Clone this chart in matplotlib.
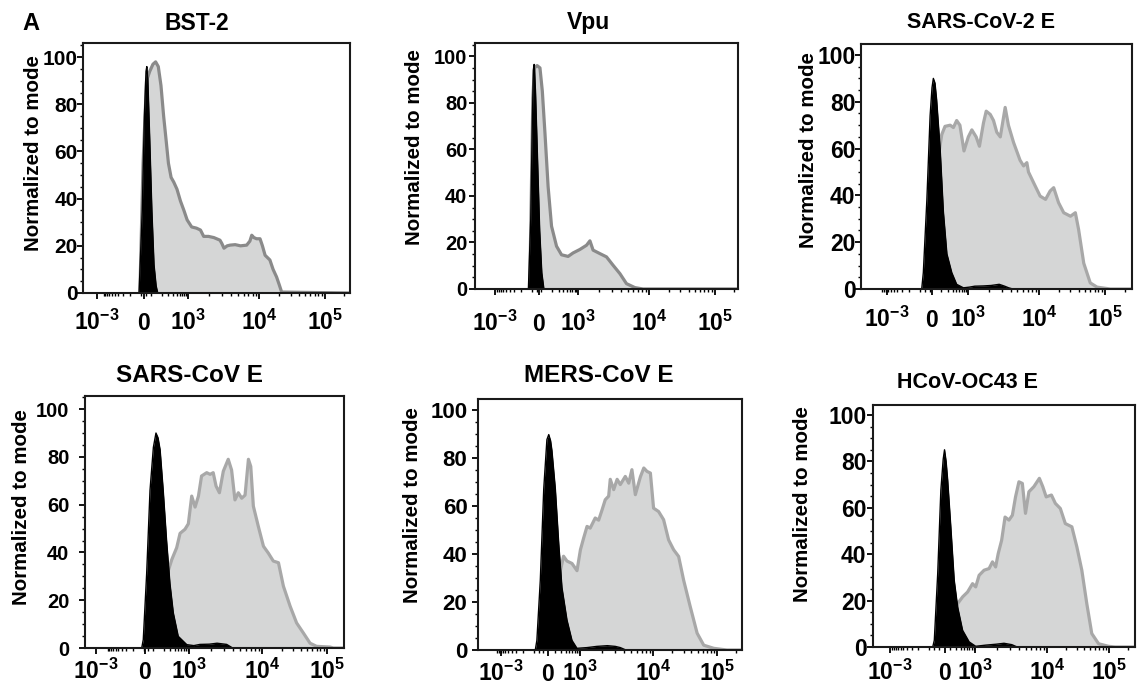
import numpy as np
import matplotlib
matplotlib.use("Agg")
import matplotlib.pyplot as plt
from matplotlib.ticker import FixedLocator, MultipleLocator

plt.rcParams['font.family'] = ['Liberation Sans', 'DejaVu Sans']
plt.rcParams['font.weight'] = 'bold'
plt.rcParams['mathtext.fontset'] = 'custom'
plt.rcParams['mathtext.rm'] = 'Liberation Sans:bold'
plt.rcParams['mathtext.bf'] = 'Liberation Sans:bold'
plt.rcParams['mathtext.it'] = 'Liberation Sans:bold'
plt.rcParams['mathtext.default'] = 'rm'

# ---------------- data (x in display channel units 0-1000 across each plot, y = % of mode)
titles = ["BST-2", "Vpu", "SARS-CoV-2 E", "SARS-CoV E", "MERS-CoV E", "HCoV-OC43 E"]
x_tick_labels = [r'$10^{-3}$', r'$0$', r'$10^{3}$', r'$10^{4}$', r'$10^{5}$']
y_ticks = [0, 20, 40, 60, 80, 100]

bst2_gray_x = [213, 225, 238, 250, 262, 272, 282, 292, 302, 312, 320, 330, 340, 352, 365, 378, 390, 407,
               425, 440, 452, 470, 490, 513, 520, 528, 540, 551, 570, 590, 613, 625, 632, 640, 650, 663,
               672, 682, 700, 712, 725, 735, 744, 1000]
bst2_gray_y = [0, 55, 90, 94, 97, 98, 96, 88, 75, 64, 55, 49, 47, 44, 39, 35, 31, 28,
               27.5, 26.7, 24, 24, 23.5, 22.4, 21, 19, 20, 20.3, 20.5, 20, 20.3, 22, 24.5, 23.5, 23, 23,
               20, 16, 14, 10, 6.8, 3.5, 0.4, 0]
bst2_black_x = [210, 222, 230, 236, 239, 243, 250, 258, 266, 274, 280]
bst2_black_y = [0, 35, 75, 94, 96, 90, 65, 35, 12, 3, 0]

vpu_gray_x = [208, 214, 220, 226, 236, 247, 256, 266, 278, 291, 310, 329, 354, 373, 399, 424, 437, 449,
              475, 500, 525, 551, 576, 608, 639, 1000]
vpu_gray_y = [0, 40, 82, 95, 96, 95, 85, 67, 44, 27, 18.4, 14.7, 14, 15.5, 17, 18.8, 20.7, 16.7,
              15.2, 13.8, 10.2, 6.6, 2.3, 0.6, 0, 0]
vpu_black_x = [203, 212, 218, 222, 225, 230, 238, 246, 254, 262]
vpu_black_y = [0, 30, 72, 94, 96.5, 85, 55, 25, 7, 0]

sars2_gray_x = [250, 270, 286, 298, 310, 329, 341, 353, 365, 380, 396, 409, 425, 437, 452, 462, 477, 489,
                501, 514, 532, 544, 563, 587, 600, 612, 618, 637, 661, 681, 698, 711, 729, 748, 773, 791,
                803, 822, 846, 871, 920, 1000]
sars2_gray_y = [0, 30, 57, 66, 69.5, 70, 69, 72, 70, 59, 65, 68, 65, 61, 71, 76, 74.6, 72,
                67, 65, 77.6, 70, 62.6, 55, 52.6, 54, 50, 45.4, 39.7, 38.3, 41.9, 43.3, 36.9, 32.6, 31.1, 32.6,
                25.4, 11, 2.6, 0.8, 0, 0]
sars2_black_x = [224, 230, 243, 255, 262, 267, 273, 279, 292, 304, 317, 335, 353, 378, 400, 420, 450, 480,
                 510, 530, 545, 560]
sars2_black_y = [0, 7, 38, 74, 86, 90, 88, 81, 60, 33, 15, 7, 2, 0.5, 0.8, 1.2, 1.3, 1.5,
                 2, 1.2, 0.5, 0]

sars_gray_x = [280, 300, 322, 335, 354, 367, 386, 399, 412, 425, 438, 450, 470, 483, 495, 506, 519, 534,
               553, 566, 579, 592, 605, 618, 631, 640, 650, 669, 689, 708, 727, 747, 766, 792, 817, 843,
               869, 894, 946, 959, 1000]
sars_gray_y = [0, 15, 32.5, 37, 42, 48, 49.7, 52, 63.6, 59, 63.6, 72, 73.4, 72.7, 73.4, 67.8, 65, 74,
               79, 74.5, 62, 65, 62.7, 64, 79, 76, 59.4, 51, 42.6, 39.7, 36.4, 35.7, 25.9, 17.5, 10.5, 6.3,
               2, 0.7, 0.4, 0, 0]
sars_black_x = [219, 225, 238, 251, 264, 274, 282, 290, 302, 315, 328, 341, 360, 393, 420, 444, 480, 510,
                547, 570]
sars_black_y = [0, 3.5, 31, 66, 84, 90, 88, 83, 66, 45, 27, 14.7, 4.9, 1.4, 1, 1.5, 1.6, 2,
                1.5, 0]

mers_gray_x = [280, 300, 312, 324, 337, 356, 375, 388, 400, 413, 425, 444, 457, 470, 482, 495, 501, 514,
               527, 539, 558, 571, 583, 596, 615, 628, 640, 653, 665, 684, 703, 722, 741, 760, 779, 804,
               830, 855, 893, 943, 1000]
mers_gray_y = [0, 20, 33, 39, 37, 36, 33, 41.7, 46.5, 51.4, 50.7, 54.9, 54, 58.3, 62.5, 64, 71, 66.7,
               71, 68.8, 72.2, 69.4, 75, 64.6, 72, 75.7, 74.3, 73.6, 59, 57.6, 54.2, 45.8, 41.7, 38.9, 29, 18,
               7, 2, 0.7, 0, 0]
mers_black_x = [217, 223, 236, 249, 261, 268, 275, 280, 293, 306, 318, 337, 356, 375, 413, 450, 490, 520,
                539, 560]
mers_black_y = [0, 4, 29, 67, 87.5, 89.6, 87, 83, 67, 44, 26, 12.5, 4, 0.7, 1, 1.5, 1.8, 1.5,
                1, 0]

oc43_gray_x = [290, 310, 323, 342, 361, 380, 392, 405, 424, 443, 456, 468, 478, 491, 504, 519, 532, 544,
               557, 570, 582, 595, 614, 635, 648, 661, 681, 696, 715, 734, 759, 778, 797, 816, 835, 861,
               899, 924, 1000]
oc43_gray_y = [0, 12, 18.7, 21.6, 23.7, 27.3, 25.9, 30.9, 33.1, 33.8, 36.7, 34.5, 40.3, 46, 56, 54.7, 56.8, 64.7,
               71.2, 70.5, 57.6, 66.9, 69.1, 72.7, 69.1, 64.7, 65.5, 61.9, 59.7, 53.2, 51.8, 43.2, 33.1, 18.7, 5.8, 1.4,
               0.3, 0, 0]
oc43_black_x = [228, 234, 247, 259, 268, 273, 279, 285, 297, 310, 323, 342, 367, 392, 430, 470, 500, 530, 550]
oc43_black_y = [0, 2.9, 31.7, 67.6, 81, 85, 80, 72, 51.8, 28.8, 17.3, 7.2, 2.2, 0.3, 0.8, 1.2, 1.6, 1, 0]

gray_series = [(bst2_gray_x, bst2_gray_y), (vpu_gray_x, vpu_gray_y), (sars2_gray_x, sars2_gray_y),
               (sars_gray_x, sars_gray_y), (mers_gray_x, mers_gray_y), (oc43_gray_x, oc43_gray_y)]
black_series = [(bst2_black_x, bst2_black_y), (vpu_black_x, vpu_black_y), (sars2_black_x, sars2_black_y),
                (sars_black_x, sars_black_y), (mers_black_x, mers_black_y), (oc43_black_x, oc43_black_y)]

# ---------------- layout (pixels)
W, H = 1138, 684
frames = [(83, 350, 43, 293), (475, 738, 43, 289), (861, 1132, 44, 289),
          (85, 344, 396, 648), (478, 742, 399, 650), (873, 1135, 405, 647)]
ytops = [106, 105.7, 104.7, 105.5, 104.4, 104.3]
# label positions (-10^3, 0) and decade ticks (10^3, 10^4, 10^5) per panel, display units
tick_pos = [[51, 228, 393, 661, 905], [76, 243, 392, 662, 911], [96, 262, 394, 656, 900],
            [42, 232, 403, 685, 933], [87, 264, 388, 663, 905], [64, 275, 390, 665, 901]]
title_pos = [(197, 23, 16.5), (588, 23, 16.5), (981, 22, 15.5),
             (189, 375, 17.5), (599, 375, 17.5), (967, 382, 15.5)]
ylabel_pos = [(34, 153), (415, 147), (808, 150), (22, 507), (413, 505), (802, 504)]
ytick_fs = [15, 14.5, 16.5, 14.5, 16, 16.5]
ytick_gap = [1, 6, 4, 14, 9, 5]
xtick_base = [35, 40, 36, 29, 29, 31]
line_colors = ['#8a8a8a', '#8a8a8a', '#a8a8a8', '#a8a8a8', '#a8a8a8', '#a8a8a8']
fill_color = '#d5d6d6'

fig = plt.figure(figsize=(W / 100, H / 100), dpi=100)

def minor_positions(p):
    p3, p4, p5 = p[2], p[3], p[4]
    ks = np.arange(2, 10)
    pos = list(p3 + np.log10(ks) * (p4 - p3))
    pos += list(p4 + np.log10(ks) * (p5 - p4))
    pos.append(p5 + np.log10(2) * (p5 - p4))
    z = p3 - 158
    lin = p3 + np.log10(np.arange(1, 10) / 10.0) * 140
    pos += list(lin)
    pos += list(2 * z - lin)
    pos.append(2 * z - p3)
    pos.append(z)
    return [v for v in pos if 5 < v < 995]

for i in range(6):
    l, r, t, b = frames[i]
    ax = fig.add_axes([l / W, 1 - b / H, (r - l) / W, (b - t) / H])
    gx, gy = gray_series[i]
    bx, by = black_series[i]
    ax.fill_between(gx, gy, 0, color=fill_color, lw=0, zorder=1)
    ax.plot(gx, gy, color=line_colors[i], lw=2.3, solid_joinstyle='round', zorder=2)
    ax.fill_between(bx, by, 0, color='black', lw=0, zorder=3)
    ax.plot(bx, by, color='black', lw=1.0, zorder=3)
    ax.set_xlim(0, 1000)
    ax.set_ylim(0, ytops[i])
    for s in ax.spines.values():
        s.set_linewidth(1.5)
        s.set_color('#1a1a1a')
        s.set_zorder(5)
    ax.set_yticks(y_ticks)
    ax.yaxis.set_minor_locator(MultipleLocator(5))
    ax.set_yticklabels([str(v) for v in y_ticks], fontsize=ytick_fs[i], fontweight='bold')
    ax.set_xticks(tick_pos[i])
    ax.set_xticklabels(x_tick_labels, fontsize=16.5)
    ax.xaxis.set_minor_locator(FixedLocator(minor_positions(tick_pos[i])))
    ax.tick_params(axis='both', which='major', direction='out', length=4, width=1.3)
    ax.tick_params(axis='both', which='minor', direction='out', length=2.5, width=1.0)
    ax.tick_params(axis='y', which='major', pad=max(ytick_gap[i] - 4, 0) * 0.72)
    ax.tick_params(axis='x', which='major', pad=(xtick_base[i] - 4) * 0.72)
    plt.setp(ax.get_xticklabels(), va='baseline')
    tx, ty, tfs = title_pos[i]
    fig.text(tx / W, 1 - ty / H, titles[i], ha='center', va='center', fontsize=tfs, fontweight='bold')
    lx, ly = ylabel_pos[i]
    fig.text(lx / W, 1 - ly / H, 'Normalized to mode', rotation=90, ha='center', va='center',
             fontsize=14.8, fontweight='bold')

fig.text(22 / W, 1 - 24 / H, 'A', ha='left', va='center', fontsize=17, fontweight='bold')

fig.savefig('out.png', dpi=100)
